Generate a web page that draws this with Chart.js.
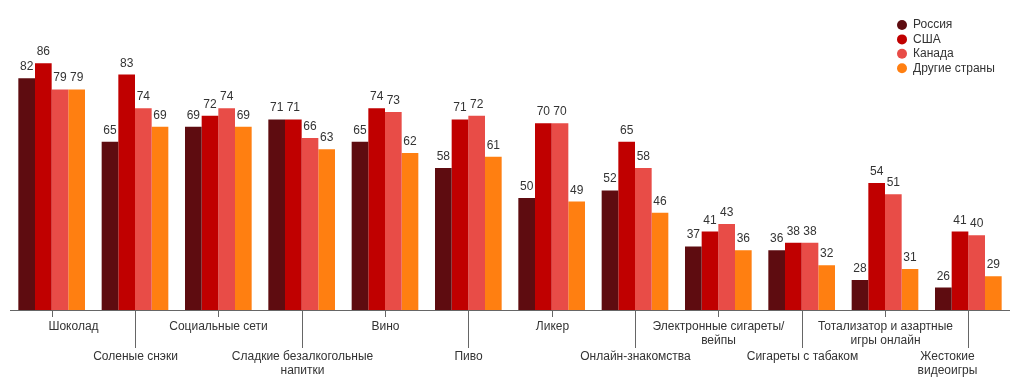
<!DOCTYPE html>
<html>
<head>
<meta charset="utf-8">
<script src="https://cdn.jsdelivr.net/npm/chart.js@4.4.1/dist/chart.umd.min.js"></script>
<style>
  html, body { margin: 0; padding: 0; background: #fff; }
  #wrap { width: 1021px; height: 384px; }
</style>
</head>
<body>
<div id="wrap"><canvas id="chart" width="1021" height="384"></canvas></div>
<script>
const categories = [
  ["Шоколад"],
  ["Соленые снэки"],
  ["Социальные сети"],
  ["Сладкие безалкогольные", "напитки"],
  ["Вино"],
  ["Пиво"],
  ["Ликер"],
  ["Онлайн-знакомства"],
  ["Электронные сигареты/", "вейпы"],
  ["Сигареты с табаком"],
  ["Тотализатор и азартные", "игры онлайн"],
  ["Жестокие", "видеоигры"]
];
const russia = [82, 65, 69, 71, 65, 58, 50, 52, 37, 36, 28, 26];
const usa    = [86, 83, 72, 71, 74, 71, 70, 65, 41, 38, 54, 41];
const canada = [79, 74, 74, 66, 73, 72, 70, 58, 43, 38, 51, 40];
const others = [79, 69, 69, 63, 62, 61, 49, 46, 36, 32, 31, 29];

const seriesNames = ["Россия", "США", "Канада", "Другие страны"];
const seriesColors = ["#5e0c10", "#c00000", "#e84c47", "#ff7f11"];

const FONT = "12px Arial, 'Liberation Sans', sans-serif";
const TEXT = "#333";

// value labels above bars
const valueLabels = {
  id: "valueLabels",
  afterDatasetsDraw(chart) {
    const ctx = chart.ctx;
    ctx.save();
    ctx.font = FONT;
    ctx.fillStyle = TEXT;
    ctx.textAlign = "center";
    ctx.textBaseline = "alphabetic";
    chart.data.datasets.forEach((ds, di) => {
      chart.getDatasetMeta(di).data.forEach((bar, i) => {
        ctx.fillText(ds.data[i], bar.x, bar.y - 8);
      });
    });
    ctx.restore();
  }
};

// x axis line, staggered ticks and labels
const staggeredAxis = {
  id: "staggeredAxis",
  afterDraw(chart) {
    const ctx = chart.ctx;
    const area = chart.chartArea;
    const x = chart.scales.x;
    ctx.save();
    ctx.strokeStyle = "#666";
    ctx.lineWidth = 1;
    ctx.beginPath();
    ctx.moveTo(area.left, area.bottom + 0.5);
    ctx.lineTo(area.right, area.bottom + 0.5);
    ctx.stroke();

    ctx.font = FONT;
    ctx.fillStyle = TEXT;
    ctx.textAlign = "center";
    ctx.textBaseline = "middle";
    const last = categories.length - 1;
    categories.forEach((lines, i) => {
      const px = Math.round(x.getPixelForValue(i)) + 0.5;
      const low = i % 2 === 1;
      ctx.beginPath();
      ctx.moveTo(px, area.bottom);
      ctx.lineTo(px, area.bottom + (low ? 38 : 7));
      ctx.stroke();
      // edge labels are nudged inwards, as in the original
      const shift = i === 0 ? 21 : i === last ? -21 : 0;
      const y0 = area.bottom + (low ? 47 : 17);
      lines.forEach((t, li) => ctx.fillText(t, px + shift, y0 + li * 14));
    });
    ctx.restore();
  }
};

// vertical legend in the top right corner
const cornerLegend = {
  id: "cornerLegend",
  afterDraw(chart) {
    const ctx = chart.ctx;
    ctx.save();
    ctx.font = FONT;
    ctx.textBaseline = "middle";
    ctx.textAlign = "left";
    chart.data.datasets.forEach((ds, i) => {
      const y = 25 + i * 14.4;
      ctx.fillStyle = ds.backgroundColor;
      ctx.beginPath();
      ctx.arc(902, y, 5, 0, Math.PI * 2);
      ctx.fill();
      ctx.fillStyle = TEXT;
      ctx.fillText(ds.label, 913, y);
    });
    ctx.restore();
  }
};

const seriesData = [russia, usa, canada, others];

new Chart(document.getElementById("chart"), {
  type: "bar",
  data: {
    labels: categories.map(c => c.join(" ")),
    datasets: seriesData.map((d, i) => ({
      label: seriesNames[i],
      data: d,
      backgroundColor: seriesColors[i],
      borderWidth: 0,
      categoryPercentage: 0.8,
      barPercentage: 1.0
    }))
  },
  options: {
    responsive: false,
    animation: false,
    layout: { padding: { left: 10, right: 11, top: 11, bottom: 74 } },
    plugins: {
      legend: { display: false },
      tooltip: { enabled: false }
    },
    scales: {
      x: { display: false },
      y: { display: false, min: 20, max: 100 }
    }
  },
  plugins: [valueLabels, staggeredAxis, cornerLegend]
});
</script>
</body>
</html>
